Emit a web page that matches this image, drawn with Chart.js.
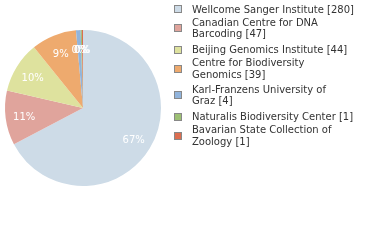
<!DOCTYPE html>
<html>
<head>
<meta charset="utf-8">
<script src="https://cdn.jsdelivr.net/npm/chart.js@4.4.0/dist/chart.umd.min.js"></script>
<style>
    body { margin: 0; background: #fff; }
    #wrap { position: relative; width: 380px; height: 240px; }
    #chart { position: absolute; left: 0; top: 0; }
    #legend {
        position: absolute; left: 174px; top: 3.6px; width: 200px;
        font-family: "DejaVu Sans", Verdana, sans-serif; font-size: 10px;
        color: #333; line-height: 11.4px;
    }
    .item { display: flex; align-items: center; }
    .box {
        flex: none; width: 6px; height: 6px; margin-right: 10px;
        border: 1px solid #888;
    }
</style>
</head>
<body>
<div id="wrap">
    <canvas id="chart" width="380" height="240"></canvas>
    <div id="legend"></div>
</div>
<script>
// Institutions and record counts
const institutions = [
    'Wellcome Sanger Institute',
    'Canadian Centre for DNA Barcoding',
    'Beijing Genomics Institute',
    'Centre for Biodiversity Genomics',
    'Karl-Franzens University of Graz',
    'Naturalis Biodiversity Center',
    'Bavarian State Collection of Zoology'
];
const counts = [280, 47, 44, 39, 4, 1, 1];
const colors = ['#cddbe7', '#e0a49c', '#dee29e', '#eeaa6e', '#91b4dc', '#9dc074', '#dc6e50'];
// where the legend text breaks onto a second line (word index, 0 = no break)
const legendBreaks = [0, 4, 0, 3, 3, 0, 4];

const total = counts.reduce((a, b) => a + b, 0);

// Build legend
const legend = document.getElementById('legend');
institutions.forEach((name, i) => {
    const words = (name + ' [' + counts[i] + ']').split(' ');
    const lines = legendBreaks[i]
        ? [words.slice(0, legendBreaks[i]).join(' '), words.slice(legendBreaks[i]).join(' ')]
        : [words.join(' ')];
    const item = document.createElement('div');
    item.className = 'item';
    item.style.marginBottom = (2 * lines.length) + 'px';
    const box = document.createElement('span');
    box.className = 'box';
    box.style.background = colors[i];
    const text = document.createElement('span');
    text.innerHTML = lines.join('<br>');
    item.appendChild(box);
    item.appendChild(text);
    legend.appendChild(item);
});

// Percent labels drawn inside the slices
const percentLabels = {
    id: 'percentLabels',
    afterDatasetsDraw(chart) {
        const ctx = chart.ctx;
        const meta = chart.getDatasetMeta(0);
        ctx.save();
        ctx.font = '10px "DejaVu Sans", Verdana, sans-serif';
        ctx.fillStyle = '#fff';
        ctx.textAlign = 'center';
        ctx.textBaseline = 'middle';
        meta.data.forEach((arc, i) => {
            const mid = (arc.startAngle + arc.endAngle) / 2;
            const r = arc.outerRadius * 0.76;
            const x = arc.x + Math.cos(mid) * r;
            const y = arc.y + Math.sin(mid) * r + 1.5;
            const pct = Math.floor(counts[i] / total * 100);
            ctx.fillText(pct + '%', x, y);
        });
        ctx.restore();
    }
};

new Chart(document.getElementById('chart'), {
    type: 'pie',
    data: {
        labels: institutions,
        datasets: [{
            data: counts,
            backgroundColor: colors,
            borderWidth: 0
        }]
    },
    options: {
        responsive: false,
        animation: false,
        layout: { padding: { left: 5, top: 30, right: 219, bottom: 54 } },
        plugins: {
            legend: { display: false },
            tooltip: { enabled: false }
        }
    },
    plugins: [percentLabels]
});
</script>
</body>
</html>
